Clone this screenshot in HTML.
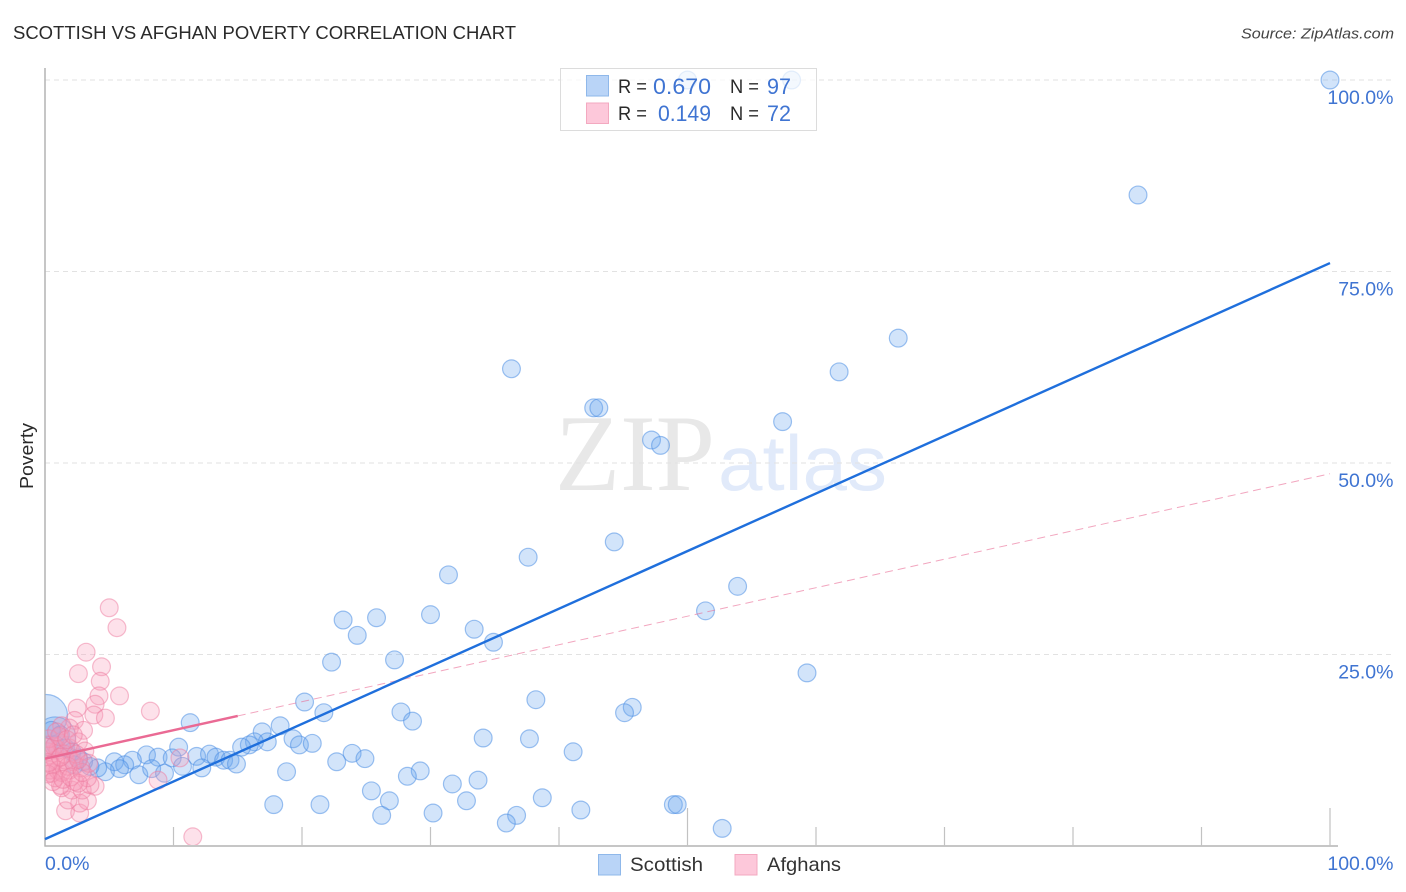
<!DOCTYPE html>
<html>
<head>
<meta charset="utf-8">
<title>Scottish vs Afghan Poverty Correlation Chart</title>
<style>
html,body{margin:0;padding:0;background:#fff;width:1406px;height:892px;overflow:hidden}
svg{display:block}
text{font-family:"Liberation Sans",sans-serif}
</style>
</head>
<body>
<svg id="chart" xmlns="http://www.w3.org/2000/svg" width="1406" height="892" viewBox="0 0 1406 892">
  <defs>
    <clipPath id="plot-clip"><rect x="45.5" y="60" width="1360" height="785"></rect></clipPath>
  </defs>
  <rect x="0" y="0" width="1406" height="892" fill="#fff"></rect>
  <text x="13" y="39" font-size="18.5" fill="#2a2a2a" textLength="503" lengthAdjust="spacingAndGlyphs">SCOTTISH VS AFGHAN POVERTY CORRELATION CHART</text>
  <text x="1241" y="38.500" font-size="15" font-style="italic" fill="#444" textLength="153" lengthAdjust="spacingAndGlyphs">Source: ZipAtlas.com</text>
  <text x="555" y="490" font-size="109" fill="#e8e8e8" textLength="160" lengthAdjust="spacingAndGlyphs" style="font-family:'Liberation Serif',serif">ZIP</text>
  <text x="718" y="490" font-size="78" fill="#e1eafa" textLength="169" lengthAdjust="spacingAndGlyphs">atlas</text>
  <g id="grid"></g>
  <g id="axes"></g>
  <g id="marks" clip-path="url(#plot-clip)"></g>
  <g id="lines"></g>
  <g id="labels"></g>
  <text transform="translate(33 456) rotate(-90)" text-anchor="middle" font-size="18" fill="#2a2a2a" textLength="66" lengthAdjust="spacingAndGlyphs">Poverty</text>

  <g>
    <rect x="560.5" y="68.500" width="256" height="62" fill="#fff" fill-opacity="0.72" stroke="#dcdcdc" stroke-width="1"></rect>
    <rect x="586.500" y="75.500" width="22" height="20.500" fill="#b9d4f7" stroke="#8fb8ea" stroke-width="1"></rect>
    <rect x="586.500" y="103" width="22" height="20.500" fill="#fdc8da" stroke="#f3a9c0" stroke-width="1"></rect>
    <text x="618" y="93" font-size="19" fill="#2a2a2a" textLength="29" lengthAdjust="spacingAndGlyphs">R =</text>
    <text x="653" y="94" font-size="22" fill="#3f74d2" textLength="58" lengthAdjust="spacingAndGlyphs">0.670</text>
    <text x="730" y="93" font-size="19" fill="#2a2a2a" textLength="29" lengthAdjust="spacingAndGlyphs">N =</text>
    <text x="767" y="94" font-size="22" fill="#3f74d2" textLength="24" lengthAdjust="spacingAndGlyphs">97</text>
    <text x="618" y="120" font-size="19" fill="#2a2a2a" textLength="29" lengthAdjust="spacingAndGlyphs">R =</text>
    <text x="658" y="121" font-size="22" fill="#3f74d2" textLength="53" lengthAdjust="spacingAndGlyphs">0.149</text>
    <text x="730" y="120" font-size="19" fill="#2a2a2a" textLength="29" lengthAdjust="spacingAndGlyphs">N =</text>
    <text x="767" y="121" font-size="22" fill="#3f74d2" textLength="24" lengthAdjust="spacingAndGlyphs">72</text>
  </g>

  <g>
    <g>
      <rect x="598.500" y="854.500" width="22" height="20.500" fill="#b9d4f7" stroke="#8fb8ea" stroke-width="1"></rect>
      <text x="630" y="871" font-size="19.500" fill="#333" textLength="73" lengthAdjust="spacingAndGlyphs">Scottish</text>
    </g>
    <g>
      <rect x="735" y="854.500" width="22" height="20.500" fill="#fdc8da" stroke="#f3a9c0" stroke-width="1"></rect>
      <text x="767" y="871" font-size="19.500" fill="#333" textLength="74" lengthAdjust="spacingAndGlyphs">Afghans</text>
    </g>
  </g>
</svg>

<script>
const yTickValues = [100, 75, 50, 25];
const yTickLabels = ["100.0%", "75.0%", "50.0%", "25.0%"];
const xTickValues = [10, 20, 30, 40, 50, 60, 70, 80, 90, 100];
const xMajorTicks = [50, 100];
const xEndLabels = ["0.0%", "100.0%"];

const scottishX = [0.1,0.8,100,85.06,66.4,61.8,57.4,36.3,42.7,43.1,47.2,47.9,44.3,37.6,31.4,53.9,51.4,30.0,25.8,23.2,24.3,33.4,34.9,27.2,22.3,59.3,38.2,20.2,45.7,45.1,27.7,21.7,28.6,11.3,18.3,16.9,34.1,37.7,19.3,19.8,20.8,17.3,16.3,15.9,15.3,10.4,41.1,23.9,24.9,22.7,7.9,8.8,9.9,11.8,12.8,13.3,13.9,14.4,14.9,6.8,5.4,6.2,5.8,4.7,4.1,7.3,8.3,9.3,10.7,12.2,18.8,29.2,28.2,31.7,33.7,25.4,26.8,38.7,32.8,17.8,21.4,26.2,30.2,36.7,35.9,41.7,48.9,49.2,52.7,50.0,58.1,0.5,1.2,0.8,1.6,2.1,2.6,3.0,3.5,2.3];
const scottishY = [17.0,14.2,100,84.99,66.3,61.9,55.4,62.3,57.2,57.2,53.0,52.3,39.7,37.7,35.4,33.9,30.7,30.2,29.8,29.5,27.5,28.3,26.6,24.3,24.0,22.6,19.1,18.8,18.1,17.4,17.5,17.4,16.3,16.1,15.7,14.9,14.1,14.0,14.0,13.2,13.4,13.6,13.6,13.2,12.9,12.9,12.3,12.1,11.4,11.0,11.9,11.6,11.5,11.7,12.0,11.6,11.2,11.2,10.7,11.2,11.0,10.6,10.1,9.7,10.2,9.3,10.1,9.5,10.4,10.2,9.7,9.8,9.1,8.1,8.6,7.2,5.9,6.3,5.9,5.4,5.4,4.0,4.3,4.0,3.0,4.7,5.4,5.4,2.3,100,100,15.1,14.5,13.2,12.8,12.3,11.5,11.0,10.4,10.6];
const scottishWeight = [5.7,5.2];

const afghanX = [5.0,5.6,3.2,4.4,2.6,4.3,4.2,5.8,8.2,2.5,3.9,3.8,4.7,2.3,3.0,1.9,1.3,10.5,8.8,11.5,1.6,2.7,3.3,2.7,1.8,1.3,2.1,1.2,2.9,3.9,3.5,3.3,2.3,0.8,0.5,0.4,0.2,0.4,0.8,1.0,1.3,1.9,1.6,1.0,1.3,1.9,2.6,0.2,0.3,0.5,0.7,1.1,1.5,2.2,2.8,3.1,2.4,3.4,1.8,0.2,0.6,1.4,2.0,2.6,2.9,0.9,1.7,2.2,0.3,1.2,2.6,0.1];
const afghanY = [31.1,28.5,25.3,23.4,22.5,21.5,19.6,19.6,17.6,18.0,18.5,17.1,16.7,16.4,15.1,15.4,15.7,11.5,8.6,1.2,4.6,4.3,5.9,5.6,6.0,7.6,7.3,7.9,7.3,7.8,8.0,8.9,8.4,8.9,9.5,9.9,13.2,11.9,11.2,9.9,9.6,9.9,11.2,12.5,13.2,12.8,13.6,12.3,14.0,10.6,13.0,14.3,12.0,11.0,10.2,12.4,12.0,10.8,10.4,9.4,8.4,8.7,9.0,8.2,9.6,14.9,13.9,14.5,10.9,11.6,11.3,12.9];

const scottishTrend = [0.9, 76.1];
const afghanTrend = [11.4, 48.6];
const afghanSolidEnd = 15;

const NS = "http://www.w3.org/2000/svg";
function xScale(v) { return 45 + v * 12.85; }
function yScale(v) { return 846 - v * 7.66; }
function make(tag, attrs, parent) {
  const el = document.createElementNS(NS, tag);
  for (const k in attrs) el.setAttribute(k, attrs[k]);
  parent.appendChild(el);
  return el;
}
const grid = document.getElementById("grid");
const axes = document.getElementById("axes");
const marks = document.getElementById("marks");
const lines = document.getElementById("lines");
const labels = document.getElementById("labels");

yTickValues.forEach(function (v, i) {
  const g = make("line", {x1: 45, x2: 1394, y1: yScale(v), y2: yScale(v), stroke: "#e2e2e2", "stroke-width": 1, "stroke-dasharray": "5 4"}, grid);
  
  
  const t = make("text", {x: 1393.5, y: yScale(v) + 24, "text-anchor": "end", "font-size": 19.5, fill: "#3f74d2"}, labels);
  
  
  t.textContent = yTickLabels[i];
});

const yAxis = make("line", {x1: 45, x2: 45, y1: 68, y2: 846.5, stroke: "#b4b4b4", "stroke-width": 1.5}, axes);


const xAxis = make("line", {x1: 44.5, x2: 1338, y1: 846, y2: 846, stroke: "#b4b4b4", "stroke-width": 1.5}, axes);



xTickValues.forEach(function (v) {
  const top = xMajorTicks.indexOf(v) >= 0 ? 808 : 827;
  const tick = make("line", {x1: xScale(v), x2: xScale(v), y1: top, y2: 846, stroke: "#c2c2c2", "stroke-width": 1.2}, axes);
  
  
});

const x0 = make("text", {x: 45, y: 870, "font-size": 19.5, fill: "#3f74d2"}, labels);


x0.textContent = xEndLabels[0];
const x1 = make("text", {x: 1393.5, y: 870, "text-anchor": "end", "font-size": 19.5, fill: "#3f74d2"}, labels);


x1.textContent = xEndLabels[1];

scottishX.forEach(function (v, i) {
  const w = scottishWeight[i] || 1;
  const c = make("circle", {cx: xScale(v), cy: yScale(scottishY[i]), r: 8.9 * Math.sqrt(w), fill: "#6aa5f0", "fill-opacity": 0.3, stroke: "#4f8fe4", "stroke-opacity": 0.55, "stroke-width": 1.2}, marks);
  
  
});
afghanX.forEach(function (v, i) {
  const c = make("circle", {cx: xScale(v), cy: yScale(afghanY[i]), r: 8.9, fill: "#f99ab8", "fill-opacity": 0.3, stroke: "#ee7c9f", "stroke-opacity": 0.5, "stroke-width": 1.2}, marks);
  
  
});

function trendAt(t, x) { return t[0] + (t[1] - t[0]) * x / 100; }

const dashed = make("line", {x1: xScale(afghanSolidEnd), y1: yScale(trendAt(afghanTrend, afghanSolidEnd)), x2: xScale(100), y2: yScale(afghanTrend[1]), stroke: "#ea6a94", "stroke-opacity": 0.6, "stroke-width": 1, "stroke-dasharray": "8 5"}, lines);


const solid = make("line", {x1: xScale(0), y1: yScale(afghanTrend[0]), x2: xScale(afghanSolidEnd), y2: yScale(trendAt(afghanTrend, afghanSolidEnd)), stroke: "#ea6a94", "stroke-width": 2.5}, lines);


const blue = make("line", {x1: xScale(0), y1: yScale(scottishTrend[0]), x2: xScale(100), y2: yScale(scottishTrend[1]), stroke: "#1f6fdc", "stroke-width": 2.4}, lines);


</script>
</body>
</html>
